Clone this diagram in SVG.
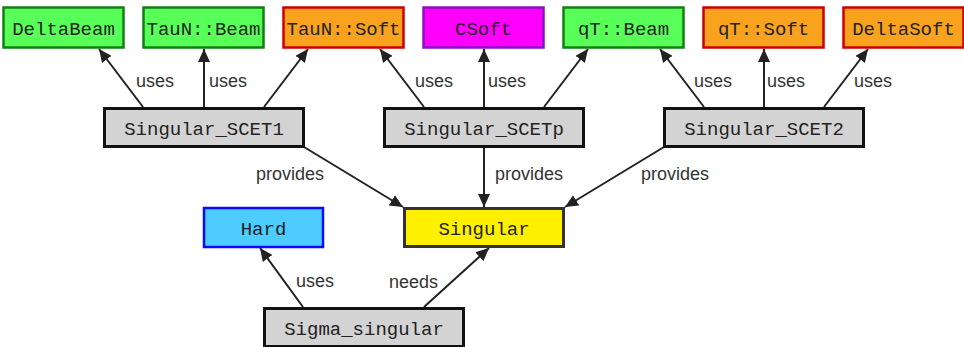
<svg xmlns="http://www.w3.org/2000/svg" width="964" height="347" viewBox="0 0 964 347">
<style>
.n text{font-family:"Liberation Mono","DejaVu Sans Mono",monospace;font-size:19px;fill:#222;text-anchor:middle}
.green{fill:#58ff58;stroke:#108010;stroke-width:2.5}
.orange{fill:#f9a21e;stroke:#cc0000;stroke-width:2.5}
.magenta{fill:#ff00ff;stroke:#8a10c0;stroke-width:2.5}
.gray{fill:#d3d3d3;stroke:#111;stroke-width:3}
.yellow{fill:#fff000;stroke:#333;stroke-width:3}
.blue{fill:#4dcdff;stroke:#0a0aff;stroke-width:2.5}
.e line{stroke:#222;stroke-width:2;marker-end:url(#a)}
.e text{font-family:"Liberation Sans",Arial,sans-serif;font-size:18px;fill:#333}
</style>
<defs>
<marker id="a" markerWidth="14" markerHeight="12" refX="13" refY="6" orient="auto" markerUnits="userSpaceOnUse">
<path d="M0,0 L13,6 L0,12 z" fill="#222"/>
</marker>
</defs>
<rect width="964" height="347" fill="#fff"/>
<g class="e" id="connectors">
<line x1="143" y1="107" x2="99" y2="49"/>
<line x1="204" y1="107" x2="204" y2="49"/>
<line x1="264" y1="107" x2="308" y2="49"/>
<line x1="424" y1="107" x2="380" y2="49"/>
<line x1="484" y1="107" x2="484" y2="49"/>
<line x1="544" y1="107" x2="588" y2="49"/>
<line x1="704" y1="107" x2="660" y2="49"/>
<line x1="764" y1="107" x2="764" y2="49"/>
<line x1="824" y1="107" x2="868" y2="49"/>
<line x1="304" y1="147" x2="403" y2="207"/>
<line x1="484" y1="148" x2="484" y2="207"/>
<line x1="664" y1="147" x2="565" y2="207"/>
<line x1="303" y1="307" x2="260" y2="248"/>
<line x1="424" y1="307" x2="489" y2="248"/>
<text x="136" y="87">uses</text>
<text x="209" y="87">uses</text>
<text x="415" y="87">uses</text>
<text x="488" y="87">uses</text>
<text x="694" y="87">uses</text>
<text x="767" y="87">uses</text>
<text x="854" y="87">uses</text>
<text x="256" y="180">provides</text>
<text x="495" y="180">provides</text>
<text x="641" y="180">provides</text>
<text x="296" y="287">uses</text>
<text x="389" y="288">needs</text>
</g>
<g class="n" id="DeltaBeam"><rect class="green" x="3.5" y="7.5" width="120" height="40"/><text x="63.5" y="35">DeltaBeam</text></g>
<g class="n" id="TauN_Beam"><rect class="green" x="143.5" y="7.5" width="120" height="40"/><text x="203.5" y="35">TauN::Beam</text></g>
<g class="n" id="TauN_Soft"><rect class="orange" x="283.5" y="7.5" width="120" height="40"/><text x="343.5" y="35">TauN::Soft</text></g>
<g class="n" id="CSoft"><rect class="magenta" x="423.5" y="7.5" width="120" height="40"/><text x="483.5" y="35">CSoft</text></g>
<g class="n" id="qT_Beam"><rect class="green" x="563.5" y="7.5" width="120" height="40"/><text x="623.5" y="35">qT::Beam</text></g>
<g class="n" id="qT_Soft"><rect class="orange" x="703.5" y="7.5" width="120" height="40"/><text x="763.5" y="35">qT::Soft</text></g>
<g class="n" id="DeltaSoft"><rect class="orange" x="843.5" y="7.5" width="120" height="40"/><text x="903.5" y="35">DeltaSoft</text></g>
<g class="n" id="Singular_SCET1"><rect class="gray" x="104.5" y="108.5" width="199" height="38"/><text x="204" y="135">Singular_SCET1</text></g>
<g class="n" id="Singular_SCETp"><rect class="gray" x="384.5" y="108.5" width="199" height="38"/><text x="484" y="135">Singular_SCETp</text></g>
<g class="n" id="Singular_SCET2"><rect class="gray" x="664.5" y="108.5" width="199" height="38"/><text x="764" y="135">Singular_SCET2</text></g>
<g class="n" id="Hard"><rect class="blue" x="204" y="208" width="119" height="39"/><text x="263.5" y="235">Hard</text></g>
<g class="n" id="Singular"><rect class="yellow" x="404.5" y="208.5" width="159" height="38"/><text x="484" y="235">Singular</text></g>
<g class="n" id="Sigma_singular"><rect class="gray" x="264.5" y="308.5" width="199" height="38"/><text x="364" y="335">Sigma_singular</text></g>
</svg>
